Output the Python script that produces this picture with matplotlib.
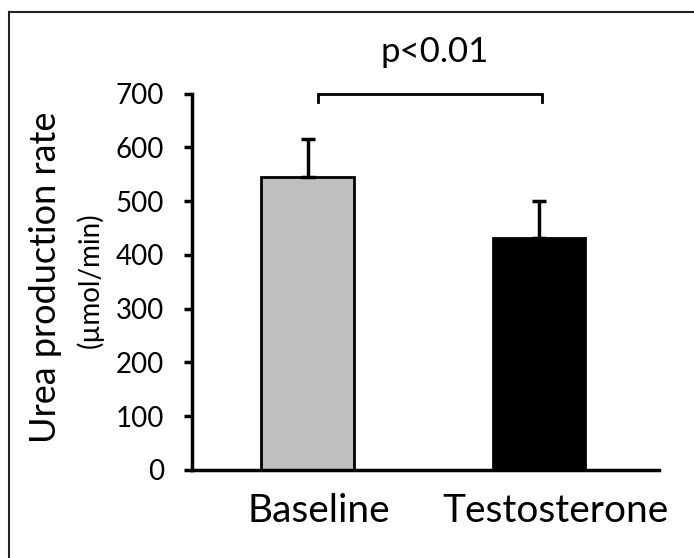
import matplotlib
matplotlib.use("Agg")
import matplotlib.pyplot as plt
from matplotlib.lines import Line2D
from matplotlib.transforms import ScaledTranslation

plt.rcParams['font.family'] = ['Lato', 'DejaVu Sans']

categories = ["Baseline", "Testosterone"]
values = [544, 432]
errors = [72, 68]
bar_colors = ["#bfbfbf", "#000000"]
yticks = [0, 100, 200, 300, 400, 500, 600, 700]
sig_text = "p<0.01"

fig = plt.figure(figsize=(6.94, 5.58), dpi=100)
ax = fig.add_axes([0.2767, 0.158, 0.6729, 0.6744])

x = list(range(len(categories)))
ax.bar(x, values, width=0.4, color=bar_colors, edgecolor="black", linewidth=2, zorder=2)
ax.errorbar(x, values, yerr=[[0, 0], errors], fmt="none", ecolor="black",
            elinewidth=2.5, capsize=5, capthick=2.5, zorder=3)

ax.set_xlim(-0.5, 1.52)
ax.set_ylim(0, 700)
ax.set_yticks(yticks)
ax.set_xticks(x)
ax.set_xticklabels(categories, fontsize=28)
ax.tick_params(axis="x", length=0, pad=17)
ax.tick_params(axis="y", direction="out", length=6, width=2.5, labelsize=20, pad=14)
for lbl, dx in zip(ax.get_xticklabels(), [8, 12]):
    lbl.set_transform(lbl.get_transform() + ScaledTranslation(dx / 72, 0, fig.dpi_scale_trans))
for s in ["top", "right"]:
    ax.spines[s].set_visible(False)
for s in ["left", "bottom"]:
    ax.spines[s].set_linewidth(2.5)

# significance bracket
bx = [0.045, 0.045, 1.015, 1.015]
by = [684, 700, 700, 684]
ax.plot(bx, by, color="black", linewidth=2, clip_on=False, solid_joinstyle="miter")
ax.text(0.55, 777, sig_text, ha="center", va="center", fontsize=25, clip_on=False)

# y labels
fig.text(0.066, 0.503, "Urea production rate", rotation=90, ha="center", va="center", fontsize=26)
fig.text(0.129, 0.498, "(\u00b5mol/min)", rotation=90, ha="center", va="center", fontsize=20)

# frame lines (top and left)
fig.add_artist(Line2D([9/694, 1.0], [1 - 12/558, 1 - 12/558], transform=fig.transFigure,
                      color="#222222", linewidth=1.5))
fig.add_artist(Line2D([9/694, 9/694], [0.0, 1 - 12/558], transform=fig.transFigure,
                      color="#222222", linewidth=1.5))

fig.savefig("out.png", dpi=100)
